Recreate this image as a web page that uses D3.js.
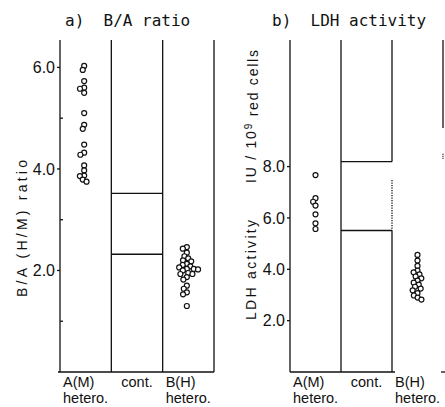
<!DOCTYPE html>
<html>
<head>
<meta charset="utf-8">
<script src="https://cdn.jsdelivr.net/npm/d3@7"></script>
<style>
  body { margin: 0; background: #fff; }
  svg text { fill: #111; }
</style>
</head>
<body>
<div id="chart"></div>
<script>
/**
 * DATA
 * */
const groups = ["A(M)", "cont.", "B(H)"];

// a) B/A ratio
const ratioAM = [6.03, 5.95, 5.73, 5.60, 5.58, 5.50, 5.10, 4.87, 4.79, 4.48, 4.32, 4.28, 4.07, 3.97, 3.87, 3.86, 3.79, 3.75];
const ratioBH = [2.46, 2.43, 2.35, 2.28, 2.24, 2.20, 2.18, 2.13, 2.11, 2.08, 2.06, 2.03, 2.02, 2.00, 2.03,
                 1.93, 1.95, 1.93, 1.87, 1.82, 1.70, 1.64, 1.57, 1.53, 1.30];
const ratioCont = [2.32, 3.52];
const ratioTicks = [1, 2, 3, 4, 5, 6];
const ratioTickLabels = [2, 4, 6];

// b) LDH activity (IU / 10^9 red cells)
const ldhAM = [7.67, 6.77, 6.63, 6.48, 6.14, 5.79, 5.57];
const ldhBH = [4.56, 4.34, 4.13, 3.95, 3.88, 3.80, 3.72, 3.65, 3.56, 3.48, 3.40, 3.32, 3.25, 3.18, 3.07, 2.98, 2.90, 2.82];
const ldhCont = [5.51, 8.19];
const ldhTicks = [2, 4, 6, 8];
const ldhTickLabels = [2, 4, 6, 8];

/**
 * LAYOUT
 * */
const width = 445, height = 407;
const plotTop = 40, plotBottom = 372;

const svg = d3.select("#chart").append("svg")
  .attr("width", width)
  .attr("height", height);

const line = (x1, y1, x2, y2, dash) => svg.append("line")
  .attr("x1", x1).attr("y1", y1).attr("x2", x2).attr("y2", y2)
  .attr("stroke", "#111").attr("stroke-width", 1.3)
  .attr("stroke-dasharray", dash || null);

// simple beeswarm: put each point as close to the column centre as it can go
function dodge(values, y, cx, minD) {
  const placed = [];
  values.map(v => ({ v, y: y(v) }))
    .sort((a, b) => a.y - b.y)
    .forEach(p => {
      const ivs = placed
        .filter(q => Math.abs(q.y - p.y) < minD)
        .map(q => {
          const h = Math.sqrt(minD * minD - (q.y - p.y) ** 2);
          return [q.x - h, q.x + h];
        });
      const cands = [cx].concat(ivs.flat());
      const ok = cands.filter(c => ivs.every(([a, b]) => c <= a + 1e-6 || c >= b - 1e-6));
      ok.sort((a, b) => Math.abs(a - cx) - Math.abs(b - cx));
      p.x = ok[0];
      placed.push(p);
    });
  return placed;
}

function drawPanel(cfg) {
  const x = d3.scaleBand().domain(groups).range([cfg.x0, cfg.x1]);
  const y = d3.scaleLinear().domain([0, cfg.ymax]).range([plotBottom, plotTop]);

  // title
  svg.append("text")
    .attr("x", cfg.x0 + cfg.titleDx).attr("y", 26)
    .style("font-family", "DejaVu Sans Mono").style("font-size", "16px")
    .style("white-space", "pre")
    .text(cfg.title);

  // column walls
  const xa = x("A(M)"), xc = x("cont."), xb = x("B(H)");
  line(xa, plotTop, xa, plotBottom);
  line(xc, plotTop, xc, plotBottom);

  if (cfg.dotted) {
    line(xb, plotTop, xb, y(cfg.cont[1]));
    line(xb, y(cfg.dotted), xb, y(cfg.cont[0]), "1.3,1.2");
    line(xb, y(cfg.cont[0]), xb, plotBottom);
  } else {
    line(xb, plotTop, xb, plotBottom);
  }

  if (cfg.openRight) {
    line(cfg.x1, plotTop, cfg.x1, y(cfg.openRight));
    line(cfg.x1, y(cfg.openRight - 1.0), cfg.x1, y(cfg.openRight - 1.2), "1,1");
    line(cfg.x0, plotBottom, xb + 3, plotBottom);
    line(cfg.x1 - 2, plotBottom, cfg.x1 + 2, plotBottom);
  } else {
    line(cfg.x1, plotTop, cfg.x1, plotBottom);
    line(cfg.x0 - 2, plotBottom, cfg.x1, plotBottom);
  }

  // control range
  cfg.cont.forEach(v => line(xc, y(v), xc + x.bandwidth(), y(v)));

  // ticks
  cfg.ticks.forEach(t => {
    const major = cfg.tickLabels.includes(t);
    if (major) line(cfg.x0 - 3, y(t), cfg.x0, y(t));
    else line(cfg.x0, y(t), cfg.x0 + 3, y(t));
  });
  svg.append("g").selectAll("text")
    .data(cfg.tickLabels)
    .join("text")
    .attr("x", cfg.x0 - 5)
    .attr("y", d => y(d))
    .attr("dy", "0.36em")
    .attr("text-anchor", "end")
    .style("font-family", "Liberation Sans").style("font-size", "16px")
    .text(d => d3.format(".1f")(d));

  // y axis label(s)
  cfg.yLabels.forEach(l => {
    const t = svg.append("text")
      .attr("transform", `translate(${l.x},${l.y}) rotate(-90)`)
      .attr("text-anchor", "middle")
      .attr("textLength", l.len)
      .attr("lengthAdjust", "spacing")
      .style("font-family", "Liberation Sans").style("font-size", "14px");
    if (l.sup) {
      t.append("tspan").text(l.text[0]);
      t.append("tspan").attr("dy", "-0.45em").style("font-size", "10px").text(l.sup);
      t.append("tspan").attr("dy", "0.45em").style("white-space", "pre").text(l.text[1]);
    } else {
      t.text(l.text);
    }
  });

  // group labels
  groups.forEach(g => {
    const hetero = g !== "cont.";
    const tx = hetero ? x(g) + 3 : x(g) + x.bandwidth() / 2;
    svg.append("text")
      .attr("x", tx).attr("y", 387)
      .attr("text-anchor", hetero ? "start" : "middle")
      .style("font-family", "Liberation Sans").style("font-size", "14.5px")
      .text(g);
    if (hetero) {
      svg.append("text")
        .attr("x", tx).attr("y", 403)
        .style("font-family", "Liberation Sans").style("font-size", "14.5px")
        .text("hetero.");
    }
  });

  // points
  [["A(M)", cfg.am], ["B(H)", cfg.bh]].forEach(([g, vals]) => {
    const cx = x(g) + x.bandwidth() / 2 + cfg.swarmDx;
    svg.append("g").selectAll("circle")
      .data(dodge(vals, y, cx, 4.3))
      .join("circle")
      .attr("cx", d => d.x)
      .attr("cy", d => d.y)
      .attr("r", 2.5)
      .attr("fill", "#fff")
      .attr("stroke", "#111")
      .attr("stroke-width", 1.2);
  });
}

drawPanel({
  x0: 60, x1: 214, ymax: 6.54, titleDx: 5, swarmDx: -1.5,
  title: "a)  B/A ratio",
  am: ratioAM, bh: ratioBH, cont: ratioCont,
  ticks: ratioTicks, tickLabels: ratioTickLabels,
  yLabels: [{ x: 27, y: 228.5, len: 137, text: "B/A (H/M) ratio" }]
});

drawPanel({
  x0: 290, x1: 443, ymax: 12.93, titleDx: -18, swarmDx: 0,
  title: "b)  LDH activity",
  am: ldhAM, bh: ldhBH, cont: ldhCont, dotted: 7.48, openRight: 9.5,
  ticks: ldhTicks, tickLabels: ldhTickLabels,
  yLabels: [
    { x: 256, y: 270, len: 100, text: "LDH activity" },
    { x: 256, y: 116.5, len: 133, text: ["IU / 10", " red cells"], sup: "9" }
  ]
});
</script>
</body>
</html>
